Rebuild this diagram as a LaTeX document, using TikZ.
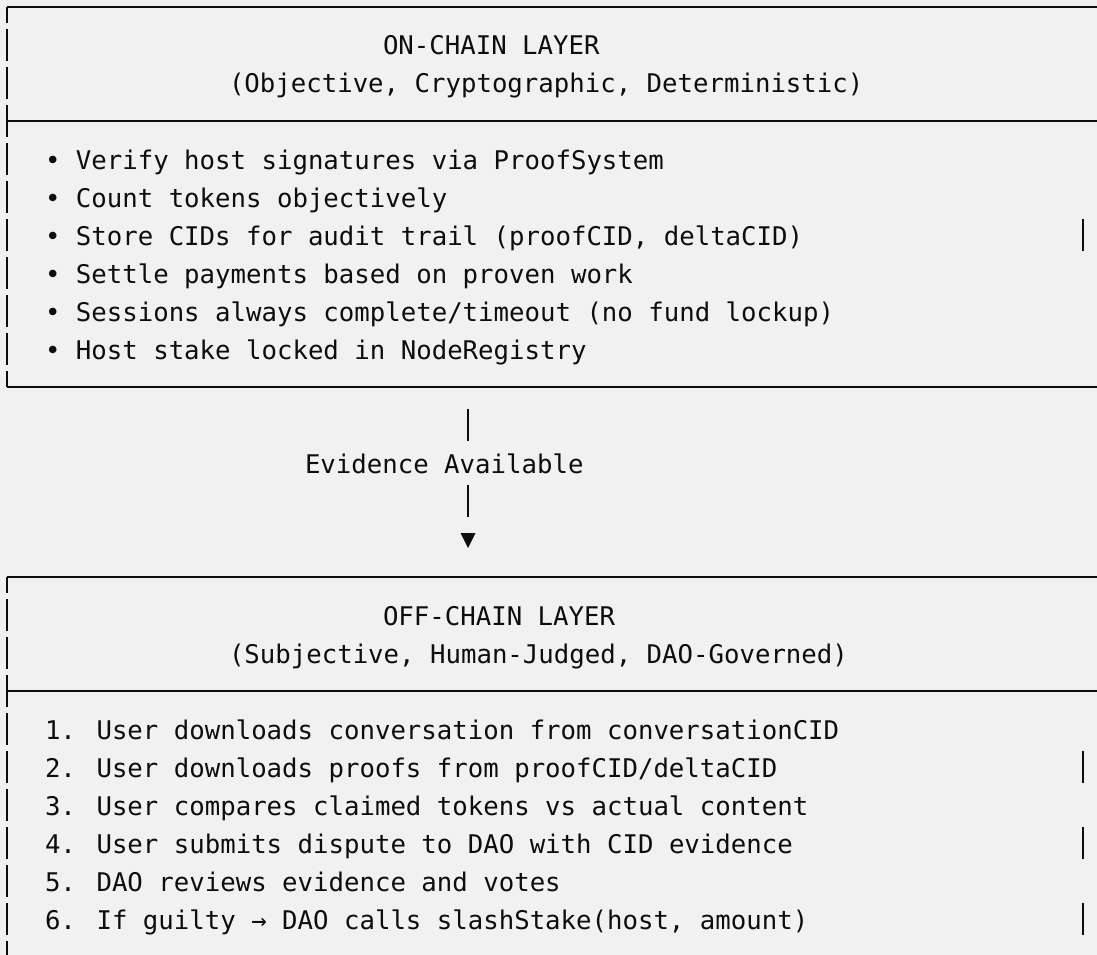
\documentclass[tikz,border=0pt]{standalone}
\usepackage{fontspec}
\newfontfamily\monofont{DejaVu Sans Mono}
\definecolor{paper}{HTML}{F1F1F1}
\definecolor{ink}{HTML}{0D0D0D}

\begin{document}
\begin{tikzpicture}[x=1pt,y=-1pt,
  txt/.style={anchor=base west, inner sep=0pt, outer sep=0pt, text=ink,
              font=\monofont\fontsize{25.7}{30}\selectfont},
  rule/.style={draw=ink, line width=2pt},
  tip/.style={fill=ink},
]
% page
\fill[paper] (0,0) rectangle (1097,955);
\useasboundingbox (0,0) rectangle (1097,955);

% ---------- upper box frame ----------
\foreach \r in {0,3,10}
  \draw[rule] (7,{7+38*\r}) -- (1097,{7+38*\r});
\draw[rule] (7,7) -- (7,23);
\foreach \r in {1,...,9}
  \draw[rule] (7,{7+38*\r-16}) -- (7,{7+38*\r+16});
\draw[rule] (7,371) -- (7,387);
\draw[rule] (1083,{7+38*6-16}) -- (1083,{7+38*6+16});

% ---------- lower box frame ----------
\foreach \r in {15,18}
  \draw[rule] (7,{7+38*\r}) -- (1097,{7+38*\r});
\draw[rule] (7,577) -- (7,593);
\foreach \r in {16,...,24}
  \draw[rule] (7,{7+38*\r-16}) -- (7,{7+38*\r+16});
\draw[rule] (7,941) -- (7,955);
\foreach \r in {20,22,24}
  \draw[rule] (1083,{7+38*\r-16}) -- (1083,{7+38*\r+16});

% ---------- upper box text ----------
\node[txt] (onTitle) at (383,{17+38*1}) {ON-CHAIN LAYER};
\node[txt] (onSub)   at (229,{17+38*2}) {(Objective, Cryptographic, Deterministic)};
\node[txt] (on1) at (45,{17+38*4}) {• Verify host signatures via ProofSystem};
\node[txt] (on2) at (45,{17+38*5}) {• Count tokens objectively};
\node[txt] (on3) at (45,{17+38*6}) {• Store CIDs for audit trail (proofCID, deltaCID)};
\node[txt] (on4) at (45,{17+38*7}) {• Settle payments based on proven work};
\node[txt] (on5) at (45,{17+38*8}) {• Sessions always complete/timeout (no fund lockup)};
\node[txt] (on6) at (45,{17+38*9}) {• Host stake locked in NodeRegistry};

% ---------- flow between the layers ----------
\coordinate (a1) at (468,409);
\coordinate (a2) at (468,441);
\node[txt] (evidence) at (305,{17+38*12}) {Evidence Available};
\coordinate (a3) at (468,485);
\coordinate (a4) at (468,517);
\draw[rule] (a1) -- (a2);
\draw[rule] (a3) -- (a4);
\coordinate (tipTop) at (468,533);
\fill[tip] ([xshift=-7.5pt]tipTop) -- ([xshift=7.5pt]tipTop) -- (468,548) -- cycle;

% ---------- lower box text ----------
\node[txt] (offTitle) at (383,{17+38*16}) {OFF-CHAIN LAYER};
\node[txt] (offSub)   at (229,{17+38*17}) {(Subjective, Human-Judged, DAO-Governed)};
\node[txt] (off1) at (45,{17+38*19}) {1. User downloads conversation from conversationCID};
\node[txt] (off2) at (45,{17+38*20}) {2. User downloads proofs from proofCID/deltaCID};
\node[txt] (off3) at (45,{17+38*21}) {3. User compares claimed tokens vs actual content};
\node[txt] (off4) at (45,{17+38*22}) {4. User submits dispute to DAO with CID evidence};
\node[txt] (off5) at (45,{17+38*23}) {5. DAO reviews evidence and votes};
\node[txt] (off6) at (45,{17+38*24}) {6. If guilty → DAO calls slashStake(host, amount)};
\end{tikzpicture}
\end{document}
